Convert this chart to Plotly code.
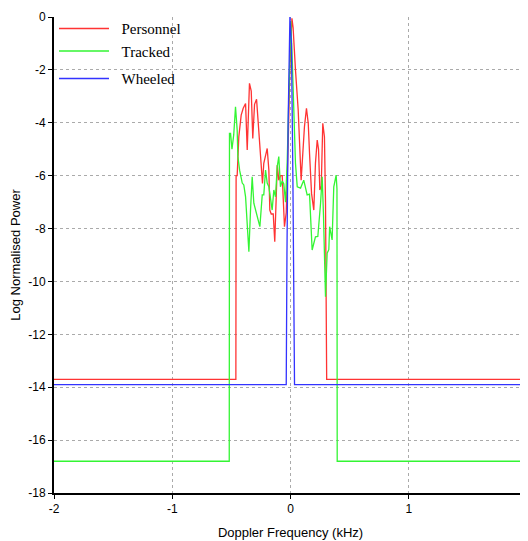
import plotly.graph_objects as go

# Personnel
pers_f = [-2.0, -0.462, -0.460, -0.451, -0.437, -0.417, -0.400, -0.380, -0.366, -0.347, -0.332,
          -0.319, -0.304, -0.287, -0.273, -0.259, -0.248, -0.237, -0.226, -0.211, -0.197, -0.183,
          -0.175, -0.163, -0.146, -0.133, -0.121, -0.112, -0.099, -0.085, -0.070, -0.062, -0.051,
          -0.036, -0.028, -0.018, -0.006, 0.012, 0.022, 0.032, 0.042, 0.065, 0.076, 0.090, 0.104,
          0.118, 0.135, 0.150, 0.161, 0.178, 0.197, 0.211, 0.226, 0.237, 0.248, 0.260, 0.273,
          0.287, 0.296, 0.302, 0.304, 0.306, 2.0]
pers_v = [-13.7, -13.7, -6.0, -6.0, -4.53, -3.71, -3.45, -3.27, -5.03, -2.51, -2.8,
          -4.59, -3.3, -3.11, -4.0, -4.78, -5.66, -6.29, -5.53, -5.2, -4.97, -5.79,
          -7.3, -7.45, -7.45, -8.5, -6.92, -5.6, -6.17, -6.0, -6.0, -7.05, -7.93,
          -7.4, -6.4, -4.5, -2.0, -0.05, -0.4, -1.3, -2.0, -3.52, -4.53, -6.17, -5.16,
          -4.15, -3.45, -4.02, -5.16, -6.67, -7.3, -5.53, -4.65, -5.0, -6.54, -6.4, -4.02,
          -4.53, -7.0, -10.2, -13.0, -13.7, -13.7]

# Tracked
trk_f = [-2.0, -0.518, -0.516, -0.507, -0.495, -0.480, -0.465, -0.451, -0.445, -0.430, -0.408,
         -0.395, -0.380, -0.366, -0.352, -0.338, -0.324, -0.310, -0.287, -0.259, -0.239, -0.226,
         -0.211, -0.197, -0.183, -0.169, -0.155, -0.141, -0.127, -0.112, -0.099, -0.085, -0.070,
         -0.057, -0.042, -0.028, -0.014, 0.002, 0.014, 0.028, 0.042, 0.057, 0.085, 0.112, 0.127,
         0.141, 0.161, 0.183, 0.211, 0.231, 0.254, 0.268, 0.279, 0.296, 0.310, 0.324, 0.331,
         0.338, 0.352, 0.366, 0.386, 0.393, 0.395, 2.0]
trk_v = [-16.8, -16.8, -4.4, -4.4, -5.0, -4.45, -3.4, -4.27, -5.28, -5.8, -6.28,
         -6.35, -6.8, -7.68, -8.88, -7.3, -6.04, -7.04, -7.42, -7.93, -6.73, -6.73,
         -5.79, -6.28, -6.42, -6.8, -7.3, -6.54, -6.8, -5.66, -5.28, -6.42, -6.2,
         -6.3, -7.0, -5.5, -2.5, -0.15, -1.5, -4.0, -5.53, -6.42, -6.47, -6.17, -6.54,
         -6.73, -6.7, -8.81, -8.31, -8.3, -7.05, -6.04, -7.5, -10.58, -8.93, -8.8, -7.93,
         -8.1, -8.43, -6.42, -5.98, -6.5, -16.8, -16.8]

# Wheeled
whl_f = [-2.0, -0.036, -0.030, -0.020, -0.005, 0.008, 0.020, 0.030, 0.034, 2.0]
whl_v = [-13.9, -13.9, -9.0, -4.0, 0.0, -1.0, -6.0, -11.0, -13.9, -13.9]

x_ticks = [-2, -1, 0, 1]
x_labels = ["-2", "-1", "0", "1"]
y_ticks = [0, -2, -4, -6, -8, -10, -12, -14, -16, -18]
y_labels = ["0", "-2", "-4", "-6", "-8", "-10", "-12", "-14", "-16", "-18"]

pad = "\u00a0\u00a0"
fig = go.Figure()
fig.add_trace(go.Scatter(x=pers_f, y=pers_v, mode="lines", name=pad + "Personnel",
                         line=dict(color="#ff3333", width=1.3), legendgroup="a"))
fig.add_trace(go.Scatter(x=trk_f, y=trk_v, mode="lines", name=pad + "Tracked",
                         line=dict(color="#33f533", width=1.3), legendgroup="a"))
fig.add_trace(go.Scatter(x=whl_f, y=whl_v, mode="lines", name=pad + "Wheeled",
                         line=dict(color="#3333ff", width=1.3), legendgroup="b"))

fig.update_layout(
    width=520, height=533,
    margin=dict(l=46, r=1, t=9, b=48),
    paper_bgcolor="white", plot_bgcolor="white",
    font=dict(family="Liberation Sans, Arial, sans-serif", size=12, color="black"),
    showlegend=True,
    legend=dict(x=0.0, y=1.01, xanchor="left", yanchor="top",
                bgcolor="rgba(0,0,0,0)", tracegroupgap=5,
                font=dict(family="Liberation Serif, Times New Roman, serif", size=15, color="black"),
                itemwidth=50),
)
fig.update_xaxes(range=[-2, 2], tickvals=x_ticks, ticktext=x_labels,
                 showline=True, linecolor="black", linewidth=2,
                 ticks="outside", ticklen=4, tickcolor="black",
                 showgrid=True, gridcolor="#aaaaaa", griddash="dot", gridwidth=1,
                 zeroline=False,
                 title=dict(text="Doppler Frequency (kHz)", font=dict(size=13), standoff=12))
fig.update_yaxes(range=[-18, 0], tickvals=y_ticks, ticktext=y_labels,
                 showline=True, linecolor="black", linewidth=2,
                 ticks="outside", ticklen=4, tickcolor="black",
                 showgrid=True, gridcolor="#aaaaaa", griddash="dot", gridwidth=1,
                 zeroline=False,
                 title=dict(text="Log Normalised Power", font=dict(size=13), standoff=5))

fig.write_html("out.html")
